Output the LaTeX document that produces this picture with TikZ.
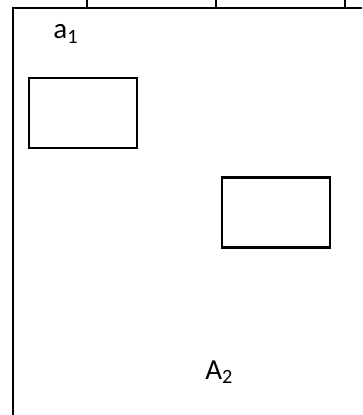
\documentclass[tikz,border=0pt]{standalone}
\usepackage{fontspec}
\setmainfont{Carlito}
\usepackage{tikz}
\usetikzlibrary{positioning}

\begin{document}
\begin{tikzpicture}[x=0.5pt, y=-0.5pt,
        box/.style={rectangle, draw, line width=1.1pt, minimum width=54pt, minimum height=35pt, inner sep=0pt, outer sep=0pt},
        lbl/.style={anchor=base west, inner sep=0pt, font=\fontsize{14.5}{17}\selectfont},
        axis/.style={line width=1.2pt}]
        \useasboundingbox (0,0) rectangle (362,415);
        
        % Frame
        \draw[axis] (12,8) -- (362,8);
        \draw[axis] (13,8) -- (13,415);
        \foreach \x in {87,216,345}
            \draw[axis] (\x,0) -- (\x,8);
        
        % Labels
        \node[lbl] (lbla) at (53,39) {a\textsubscript{1}};
        \node[lbl] (lblA) at (205,379) {A\textsubscript{2}};
        
        % Boxes
        \node[box] (boxa) at (83,113) {};
        \node[box] (boxb) at (276,212.5) {};
    \end{tikzpicture}
\end{document}
